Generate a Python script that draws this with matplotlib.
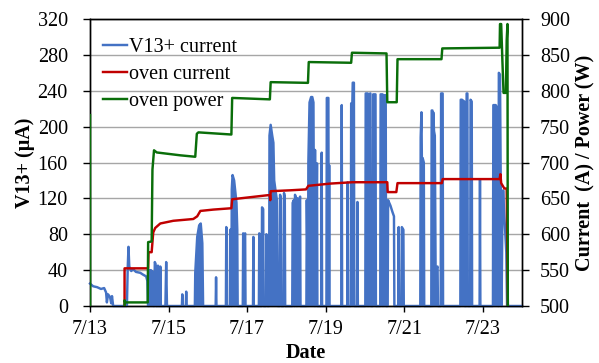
import matplotlib
matplotlib.use('Agg')
import matplotlib.pyplot as plt

plt.rcParams['font.family'] = ['Liberation Serif', 'DejaVu Serif']

# time axis: days after 7/13 00:00
x_ticks = [0, 2, 4, 6, 8, 10]
x_labels = ['7/13', '7/15', '7/17', '7/19', '7/21', '7/23']
left_ticks = [0, 40, 80, 120, 160, 200, 240, 280, 320]
right_ticks = [500, 550, 600, 650, 700, 750, 800, 850, 900]

# V13+ beam current (uA)
v13_points = [
    (0.00, 25), (0.08, 22), (0.18, 21), (0.28, 19), (0.36, 20), (0.41, 15), (0.43, 4), (0.46, 13),
    (0.51, 10), (0.54, 3), (0.56, 11), (0.59, 0),
    (0.94, 0), (0.96, 42), (0.98, 66), (1.00, 44), (1.05, 39), (1.10, 41), (1.17, 38), (1.28, 37),
    (1.35, 35), (1.43, 33), (1.46, 28), (1.48, 0),
    (1.49, 40), (1.50, 0), (1.52, 40), (1.53, 0), (1.55, 40), (1.56, 0), (1.58, 39), (1.60, 0),
    (1.64, 0), (1.65, 49), (1.67, 47), (1.68, 0), (1.72, 0), (1.73, 45), (1.74, 0), (1.78, 0),
    (1.79, 44), (1.80, 0), (1.92, 0), (1.94, 49), (1.96, 0),
    (2.34, 0), (2.35, 13), (2.36, 0), (2.44, 0), (2.45, 16), (2.46, 0),
    (2.67, 0), (2.68, 37), (2.73, 77), (2.78, 90), (2.82, 92), (2.86, 70), (2.88, 0),
    (3.20, 0), (3.21, 32), (3.22, 0), (3.46, 0), (3.47, 88), (3.48, 0),
    (3.56, 0), (3.57, 85), (3.59, 85), (3.60, 0), (3.61, 130), (3.63, 146), (3.67, 140), (3.70, 128),
    (3.73, 115), (3.75, 85), (3.76, 0),
    (3.89, 0), (3.90, 81), (3.93, 77), (3.95, 81), (3.96, 0), (4.15, 0), (4.16, 77), (4.17, 0),
    (4.30, 0), (4.31, 81), (4.32, 0), (4.37, 0), (4.38, 110), (4.41, 108), (4.42, 0),
    (4.48, 0), (4.49, 80), (4.51, 78), (4.52, 0),
    (4.56, 0), (4.57, 190), (4.60, 202), (4.64, 190), (4.67, 182), (4.69, 140), (4.72, 130),
    (4.76, 118), (4.78, 0),
    (4.83, 0), (4.84, 124), (4.86, 120), (4.87, 0), (4.93, 0), (4.94, 126), (4.96, 122), (4.97, 0),
    (5.15, 0), (5.16, 115), (5.19, 118), (5.21, 0), (5.22, 124), (5.25, 120), (5.27, 0), (5.28, 120),
    (5.33, 118), (5.35, 122), (5.36, 0),
    (5.51, 0), (5.52, 118), (5.55, 0), (5.56, 160), (5.59, 227), (5.63, 233), (5.66, 233), (5.69, 227),
    (5.71, 0), (5.73, 174), (5.75, 0), (5.78, 159), (5.79, 0),
    (5.89, 0), (5.90, 171), (5.91, 0), (6.02, 0), (6.03, 232), (6.07, 232), (6.08, 0), (6.09, 157),
    (6.10, 0),
    (6.40, 0), (6.41, 224), (6.42, 0), (6.55, 0), (6.56, 138), (6.57, 0),
    (6.64, 0), (6.65, 226), (6.68, 226), (6.69, 249), (6.72, 249), (6.73, 0), (6.80, 0), (6.81, 116),
    (6.82, 0),
    (7.01, 0), (7.02, 237), (7.07, 237), (7.08, 0), (7.09, 236), (7.14, 237), (7.15, 0),
    (7.20, 0), (7.21, 236), (7.27, 236), (7.28, 0),
    (7.39, 0), (7.40, 236), (7.45, 236), (7.46, 0), (7.47, 235), (7.53, 235), (7.54, 0),
    (7.58, 0), (7.59, 118), (7.65, 112), (7.70, 105), (7.74, 100), (7.75, 0),
    (7.85, 0), (7.86, 88), (7.87, 0), (7.93, 0), (7.94, 88), (7.98, 85), (7.99, 0),
    (8.41, 0), (8.42, 188), (8.44, 216), (8.45, 165), (8.47, 165), (8.50, 160), (8.51, 0),
    (8.69, 0), (8.70, 218), (8.72, 218), (8.73, 0), (8.74, 216), (8.76, 195), (8.78, 190),
    (8.80, 40), (8.85, 44), (8.86, 0),
    (8.93, 0), (8.94, 237), (8.98, 237), (8.99, 0),
    (9.43, 0), (9.44, 230), (9.47, 230), (9.53, 228), (9.54, 0), (9.58, 0), (9.59, 237), (9.61, 237),
    (9.62, 0), (9.68, 0), (9.69, 230), (9.72, 228), (9.73, 0),
    (9.92, 0), (9.93, 141), (9.94, 0),
    (10.26, 0), (10.27, 224), (10.33, 224), (10.38, 220), (10.39, 0), (10.40, 0), (10.41, 260),
    (10.44, 258), (10.46, 130), (10.48, 0), (10.50, 96), (10.52, 129), (10.55, 100), (10.57, 85),
    (10.60, 60), (10.62, 0),
    (11.00, 0),
]
# stretches where the current was steady (drawn as a plain line, not a dense band)
v13_steady_spans = [(0.0, 0.60), (0.94, 1.48), (7.58, 7.75), (10.49, 10.62)]

# oven current, plotted against the left scale
oven_current_points = [
    (0.88, 0), (0.88, 42), (1.48, 42), (1.49, 60), (1.57, 60), (1.61, 82), (1.66, 87), (1.79, 92),
    (2.12, 95), (2.63, 97), (2.73, 100), (2.81, 106), (3.14, 107.5), (3.60, 109), (3.62, 119),
    (4.52, 123.5), (4.58, 123.5), (4.59, 118), (4.60, 128), (5.10, 129), (5.50, 130), (5.56, 134),
    (6.12, 136.5), (6.68, 138), (7.57, 138), (7.58, 127), (7.80, 127), (7.83, 137), (8.96, 137),
    (8.98, 141.5), (10.43, 141.5), (10.45, 147), (10.47, 137), (10.55, 131), (10.61, 131),
    (10.64, 0),
]

# oven power (W), right scale
oven_power_points = [
    (0.00, 766), (0.01, 0), (0.87, 0), (0.88, 508), (0.90, 505), (1.47, 505), (1.48, 589),
    (1.57, 590), (1.59, 690), (1.63, 717), (1.70, 714), (2.30, 710), (2.68, 708), (2.72, 740),
    (2.76, 742), (3.60, 739), (3.62, 790), (4.58, 788), (4.60, 812), (5.55, 811), (5.57, 840),
    (6.65, 839), (6.67, 853), (7.55, 852), (7.57, 784), (7.81, 784), (7.83, 844), (8.95, 844),
    (8.97, 859), (10.43, 860), (10.44, 893), (10.47, 893), (10.50, 843), (10.53, 797),
    (10.59, 797), (10.61, 870), (10.63, 893), (10.65, 0),
]

BLUE = '#4472C4'
RED = '#C00000'
GREEN = '#0A6E0A'
FS = 14.5
LW = 1.75

v13_t, v13_v = zip(*v13_points)
cur_t, cur_v = zip(*oven_current_points)
pow_t, pow_v = zip(*oven_power_points)
dense = [not any(a <= t <= b for a, b in v13_steady_spans) for t in v13_t]

fig = plt.figure(figsize=(5.99, 3.63), dpi=100)
ax = fig.add_axes([90 / 599, 1 - 306 / 363, 432 / 599, 287 / 363])
ax2 = ax.twinx()

ax.set_xlim(0, 11)
ax.set_ylim(0, 320)
ax2.set_ylim(500, 900)

ax.set_axisbelow(True)
ax.yaxis.grid(True, color='#a6a6a6', lw=1.0)

ax.fill_between(v13_t, 0, v13_v, where=dense, color=BLUE, lw=0, zorder=3)
l1, = ax.plot(v13_t, v13_v, color=BLUE, lw=LW, zorder=3, clip_on=False, label='V13+ current')
l2, = ax.plot(cur_t, cur_v, color=RED, lw=LW, zorder=4, label='oven current')
l3, = ax2.plot(pow_t, pow_v, color=GREEN, lw=LW, zorder=4, label='oven power')

ax.set_xticks(x_ticks)
ax.set_xticklabels(x_labels)
ax.set_yticks(left_ticks)
ax2.set_yticks(right_ticks)

ax.tick_params(axis='x', direction='out', length=4, width=1, pad=6, labelsize=FS)
ax.tick_params(axis='y', direction='out', length=5, width=1, pad=11, labelsize=FS)
ax2.tick_params(axis='y', direction='out', length=5, width=1, pad=8, labelsize=FS)

for a in (ax, ax2):
    for s in a.spines.values():
        s.set_color('black')
        s.set_linewidth(1.0)

fig.text(25 / 599, 1 - 163 / 363, 'V13+ (\u03bcA)', rotation=90, ha='center', va='center',
         fontsize=FS, fontweight='bold')
fig.text(585 / 599, 1 - 163 / 363, 'Current  (A) / Power (W)', rotation=90, ha='center',
         va='center', fontsize=FS, fontweight='bold')
fig.text(306 / 599, 1 - 353 / 363, 'Date', ha='center', va='center', fontsize=FS, fontweight='bold')

ax2.legend(handles=[l1, l2, l3], loc='upper left', bbox_to_anchor=(0.03, 0.935), frameon=False,
           fontsize=FS, borderpad=0, borderaxespad=0, handlelength=1.2, handletextpad=0.1,
           labelspacing=0.40)

fig.savefig('out.png', dpi=100)
